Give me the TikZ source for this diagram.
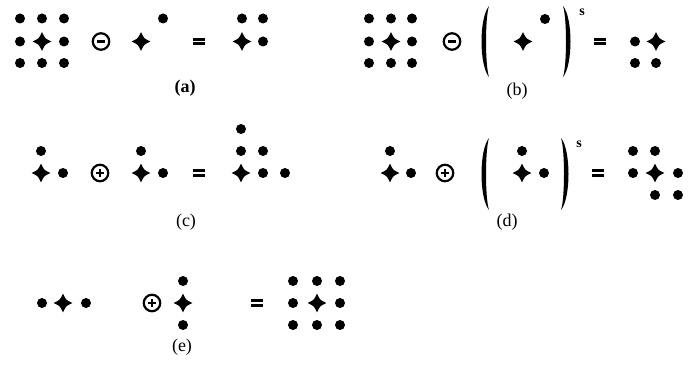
\documentclass[tikz,border=0pt]{standalone}
\usepackage{fontspec}
\setmainfont{Liberation Serif}
\usetikzlibrary{positioning}

\begin{document}
\begin{tikzpicture}[x=1pt,y=-1pt,node distance=21.5pt,
  dot/.style={circle,fill,inner sep=0pt,minimum size=10pt},
  star/.style={circle,inner sep=0pt,minimum size=20pt,path picture={
    \fill[shift={(path picture bounding box.center)}] (0,-9.3) .. controls (3,-3) .. (9.3,0) .. controls (3,3) .. (0,9.3) .. controls (-3,3) .. (-9.3,0) .. controls (-3,-3) .. cycle;}},
  ominus/.style={circle,draw,line width=2.2pt,inner sep=0pt,minimum size=16.5pt,path picture={
    \draw[line width=2.6pt] ([xshift=-4pt]path picture bounding box.center) -- ([xshift=4pt]path picture bounding box.center);}},
  oplus/.style={circle,draw,line width=2.2pt,inner sep=0pt,minimum size=16.5pt,path picture={
    \draw[line width=2pt] ([xshift=-3.8pt]path picture bounding box.center) -- ([xshift=3.8pt]path picture bounding box.center);
    \draw[line width=2pt] ([yshift=-3.8pt]path picture bounding box.center) -- ([yshift=3.8pt]path picture bounding box.center);}},
  eq/.style={inner sep=0pt,minimum width=12pt,minimum height=7.5pt,path picture={
    \fill (path picture bounding box.north west) rectangle ([yshift=-2.8pt]path picture bounding box.north east);
    \fill (path picture bounding box.south west) rectangle ([yshift=2.8pt]path picture bounding box.south east);}},
  lbl/.style={font=\fontsize{18}{21}\selectfont},
  sup/.style={font=\bfseries\fontsize{14}{16}\selectfont}]

  \useasboundingbox (0,0) rectangle (693,366);

  % (a)
  \node[dot] (a1) at (20,18.5) {};
  \node[dot] (a2) at (42,18.5) {};
  \node[dot] (a3) at (64,18.5) {};
  \node[dot] (a4) at (20,41.5) {};
  \node[star] (a5) at (42,41.5) {};
  \node[dot] (a6) at (64,41.5) {};
  \node[dot] (a7) at (20,63) {};
  \node[dot] (a8) at (42,63) {};
  \node[dot] (a9) at (64,63) {};
  \node[ominus] (aop) at (101,41.5) {};
  \node[star] (ab1) at (141,41.5) {};
  \node[dot] (ab2) at (163,18.5) {};
  \node[eq] (aeq) at (199,41.5) {};
  \node[dot] (ar1) at (242,18.5) {};
  \node[dot] (ar2) at (263,18.5) {};
  \node[star] (ar3) at (242,41.5) {};
  \node[dot] (ar4) at (263,41.5) {};
  \node[lbl,font=\bfseries\fontsize{18}{21}\selectfont] (alab) at (185,88) {(a)};

  % (b)
  \node[dot] (b1) at (369,18.5) {};
  \node[dot] (b2) at (391,18.5) {};
  \node[dot] (b3) at (412,18.5) {};
  \node[dot] (b4) at (369,41.5) {};
  \node[star] (b5) at (391,41.5) {};
  \node[dot] (b6) at (412,41.5) {};
  \node[dot] (b7) at (369,63) {};
  \node[dot] (b8) at (391,63) {};
  \node[dot] (b9) at (412,63) {};
  \node[ominus] (bop) at (452,41.5) {};
  \fill (489,6) .. controls (479,18) and (479,65) .. (489,77) .. controls (485,65) and (485,18) .. cycle;
  \node[star] (bb1) at (523,41.5) {};
  \node[dot] (bb2) at (545,19) {};
  \fill (563,6) .. controls (573,18) and (573,65) .. (563,77) .. controls (567,65) and (567,18) .. cycle;
  \node[sup] (bs) at (582,12) {s};
  \node[eq] (beq) at (600,41.5) {};
  \node[dot] (br1) at (635,41.5) {};
  \node[star] (br2) at (656,41.5) {};
  \node[dot] (br3) at (635,63) {};
  \node[dot] (br4) at (656,63) {};
  \node[lbl] (blab) at (517,91) {(b)};

  % (c)
  \node[star] (c1) at (41,173) {};
  \node[dot] (c2) at (41,151) {};
  \node[dot] (c3) at (63,173) {};
  \node[oplus] (cop) at (100,173) {};
  \node[star] (cb1) at (141,173) {};
  \node[dot] (cb2) at (141,151) {};
  \node[dot] (cb3) at (163,173) {};
  \node[eq] (ceq) at (199,173) {};
  \node[star] (cr1) at (241,173) {};
  \node[dot] (cr2) at (241,151) {};
  \node[dot] (cr3) at (263,151) {};
  \node[dot] (cr4) at (241,129) {};
  \node[dot] (cr5) at (263,173) {};
  \node[dot] (cr6) at (285,173) {};
  \node[lbl] (clab) at (186,222) {(c)};

  % (d)
  \node[star] (d1) at (390,173) {};
  \node[dot] (d2) at (390,151) {};
  \node[dot] (d3) at (411,173) {};
  \node[oplus] (dop) at (445,173) {};
  \fill (489,138) .. controls (479,150) and (479,198) .. (489,210) .. controls (485,198) and (485,150) .. cycle;
  \node[star] (db1) at (522,173) {};
  \node[dot] (db2) at (522,151) {};
  \node[dot] (db3) at (544,173) {};
  \fill (561,138) .. controls (571,150) and (571,198) .. (561,210) .. controls (565,198) and (565,150) .. cycle;
  \node[sup] (ds) at (579,144) {s};
  \node[eq] (deq) at (598,173) {};
  \node[dot] (dr1) at (633,151) {};
  \node[dot] (dr2) at (655,151) {};
  \node[dot] (dr3) at (633,173) {};
  \node[star] (dr4) at (655,173) {};
  \node[dot] (dr5) at (678,173) {};
  \node[dot] (dr6) at (655,195) {};
  \node[dot] (dr7) at (678,195) {};
  \node[lbl] (dlab) at (507,222) {(d)};

  % (e)
  \node[dot] (e1) at (42,303) {};
  \node[star] (e2) at (63,303) {};
  \node[dot] (e3) at (86,303) {};
  \node[oplus] (eop) at (152,303) {};
  \node[dot] (eb1) at (183,281) {};
  \node[star] (eb2) at (183,303) {};
  \node[dot] (eb3) at (183,325) {};
  \node[eq] (eeq) at (257,303) {};
  \node[dot] (er1) at (293,281) {};
  \node[dot] (er2) at (317,281) {};
  \node[dot] (er3) at (340,281) {};
  \node[dot] (er4) at (293,303) {};
  \node[star] (er5) at (317,303) {};
  \node[dot] (er6) at (340,303) {};
  \node[dot] (er7) at (293,325) {};
  \node[dot] (er8) at (317,325) {};
  \node[dot] (er9) at (340,325) {};
  \node[lbl] (elab) at (182,347) {(e)};
\end{tikzpicture}
\end{document}
